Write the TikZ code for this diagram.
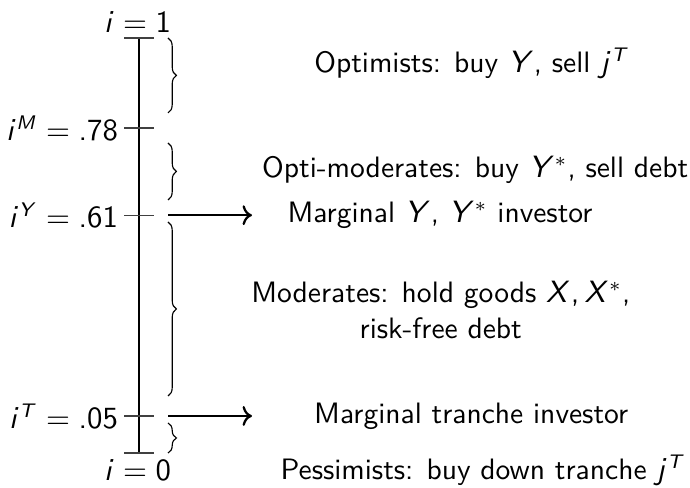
\documentclass[tikz,border=0pt]{standalone}
\usepackage{amsmath, amssymb}
\usepackage{tikz}
\usetikzlibrary{arrows.meta,decorations.pathreplacing,calc}
\renewcommand{\familydefault}{\sfdefault}
% sans serif maths, as on slides
\SetSymbolFont{letters}{normal}{OT1}{cmss}{m}{it}
\SetSymbolFont{operators}{normal}{OT1}{cmss}{m}{n}
\DeclareMathSymbol{.}{\mathord}{operators}{"2E}
\DeclareMathSymbol{,}{\mathpunct}{operators}{"2C}

\tikzset{
  grp/.style={decorate,decoration={brace,amplitude=3pt},thin},
  tick/.style={thin,black!75},
  lab/.style={align=center},
}

\begin{document}
\begin{tikzpicture}[font=\fontsize{10.5}{12.6}\selectfont]
    \useasboundingbox (0,0) rectangle (8.625,6.1);

    % Axis
    \coordinate (top) at (1.74,5.625);
    \coordinate (bot) at (1.74,0.4375);
    \draw[thick] (top) -- (bot);

    % Cut-off points
    \coordinate (iM) at (1.74,4.5);
    \coordinate (iY) at (1.74,3.41);
    \coordinate (iT) at (1.74,0.9);
    \foreach \p in {top,bot,iM,iY,iT}
      \draw[tick] ($(\p)+(-0.19,0)$) -- ($(\p)+(0.19,0)$);

    % Tick labels
    \node[above] (one) at ($(top)+(-0.02,-0.05)$) {$i=1$};
    \node[below] (zero) at ($(bot)+(-0.02,0.04)$) {$i=0$};
    \node[left] (lM) at ($(iM)+(-0.14,0)$) {$i^M=.78$};
    \node[left] (lY) at ($(iY)+(-0.14,0)$) {$i^Y=.61$};
    \node[left] (lT) at ($(iT)+(-0.14,0)$) {$i^T=.05$};

    % Groups
    \draw[grp] (2.1,5.625) -- (2.1,4.688);
    \draw[grp] (2.1,4.3125) -- (2.1,3.6);
    \draw[grp] (2.1,3.325) -- (2.1,1.15);
    \draw[grp] (2.1,0.8125) -- (2.1,0.4375);

    % Group labels
    \node[lab] (opt) at (5.9,5.31) {Optimists: buy $Y$, sell $j^T$};
    \node[lab] (optmod) at (5.94,3.975) {Opti-moderates: buy $Y^*$, sell debt};
    \node[lab] (margY) at (5.5,3.41) {Marginal $Y$, $Y^*$ investor};
    \node[lab] (mod) at (5.51,2.225) {Moderates: hold goods $X, X^*$,\\ risk-free debt};
    \node[lab] (margT) at (5.89,0.9) {Marginal tranche investor};
    \node[lab] (pess) at (6.04,0.225) {Pessimists: buy down tranche $j^T$};

    % Marginal investors
    \coordinate (aY) at (3.15,3.41);
    \coordinate (aT) at (3.15,0.9);
    \draw[thick,->] ($(iY)+(0.36,0)$) -- (aY);
    \draw[thick,->] ($(iT)+(0.36,0)$) -- (aT);
\end{tikzpicture}
\end{document}
